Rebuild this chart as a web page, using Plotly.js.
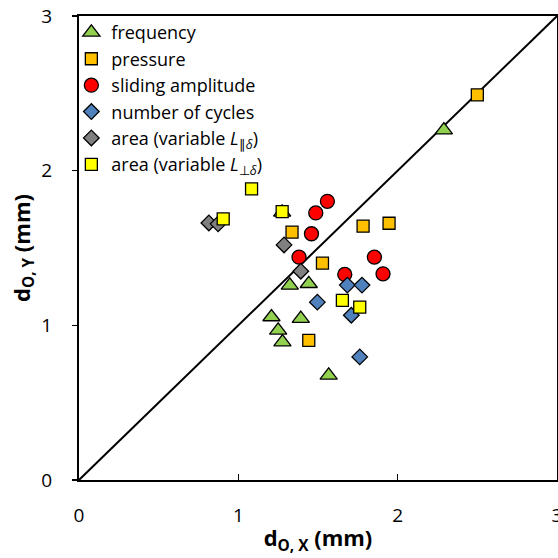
<!DOCTYPE html>
<html><head><meta charset="utf-8">
<script src="https://cdn.plot.ly/plotly-3.0.1.min.js"></script>
<style>html,body{margin:0;padding:0;background:#fff}</style>
</head><body><div id="chart" style="width:558px;height:558px"></div>
<script>
// Data
const freqX = [1.323, 1.442, 1.208, 1.392, 1.250, 1.277, 1.567, 1.275, 2.290];
const freqY = [1.258, 1.269, 1.054, 1.043, 0.968, 0.892, 0.677, 1.730, 2.262];
const presX = [1.337, 1.783, 1.946, 1.528, 1.442, 2.500];
const presY = [1.602, 1.641, 1.660, 1.402, 0.903, 2.490];
const slidX = [1.559, 1.486, 1.459, 1.381, 1.854, 1.668, 1.908];
const slidY = [1.802, 1.727, 1.592, 1.441, 1.441, 1.329, 1.333];
const cycX = [1.684, 1.776, 1.496, 1.709, 1.762];
const cycY = [1.260, 1.260, 1.150, 1.065, 0.796];
const parX = [0.815, 0.873, 1.287, 1.392];
const parY = [1.662, 1.656, 1.520, 1.350];
const perpX = [1.083, 1.275, 0.905, 1.653, 1.762];
const perpY = [1.882, 1.735, 1.688, 1.161, 1.118];
const diagX = [0, 3];
const diagY = [0, 3];
const names = ['frequency', 'pressure', 'sliding amplitude', 'number of cycles',
  'area (variable <i>L</i><sub>\u2225<i>\u03b4</i></sub>)',
  'area (variable <i>L</i><sub>\u22a5<i>\u03b4</i></sub>)'];

const line = {color: '#000', width: 1.3};
function mk(x, y, name, symbol, color, size) {
  return {x: x, y: y, name: name, type: 'scatter', mode: 'markers',
    marker: {symbol: symbol, color: color, size: size, line: line}};
}
const traces = [
  {x: diagX, y: diagY, type: 'scatter', mode: 'lines', line: {color: '#000', width: 2}, showlegend: false, hoverinfo: 'skip'},
  mk(freqX, freqY, names[0], 'triangle-up', '#92D050', 15),
  mk(presX, presY, names[1], 'square', '#FFC000', 12),
  mk(slidX, slidY, names[2], 'circle', '#FF0000', 14),
  mk(cycX, cycY, names[3], 'diamond', '#4F81BD', 12),
  mk(parX, parY, names[4], 'diamond', '#808080', 12),
  mk(perpX, perpY, names[5], 'square', '#FFFF00', 12)
];
const fam = '"Open Sans", "Noto Sans", sans-serif';
const layout = {
  width: 558, height: 558,
  margin: {l: 79, r: 1, t: 16, b: 78},
  paper_bgcolor: '#fff', plot_bgcolor: '#fff',
  font: {family: fam, color: '#000', size: 19},
  showlegend: true,
  legend: {x: -0.016, y: 1.004, xanchor: 'left', yanchor: 'top', bgcolor: 'rgba(0,0,0,0)',
    font: {family: fam, size: 18, color: '#000'}, tracegroupgap: 0},
  xaxis: {range: [0, 3], dtick: 1, showgrid: false, zeroline: false,
    showline: true, linecolor: '#000', linewidth: 2, mirror: true,
    ticks: 'inside', ticklen: 6, tickcolor: '#000', tickwidth: 1.5, ticklabelstandoff: 17,
    ticklabeloverflow: 'allow',
    tickfont: {size: 19},
    title: {text: '<b>d<sub>O, X</sub> (mm)</b>', font: {size: 22}, standoff: 4}},
  yaxis: {range: [0, 3], dtick: 1, showgrid: false, zeroline: false,
    showline: true, linecolor: '#000', linewidth: 2, mirror: true,
    ticks: 'outside', ticklen: 5, tickcolor: '#000', tickwidth: 1.5, ticklabelstandoff: 16,
    ticklabeloverflow: 'allow',
    tickfont: {size: 19},
    title: {text: '<b>d<sub>O, Y</sub> (mm)</b>', font: {size: 22}, standoff: 5}}
};
Plotly.newPlot('chart', traces, layout, {displayModeBar: false, staticPlot: true});
</script></body></html>
